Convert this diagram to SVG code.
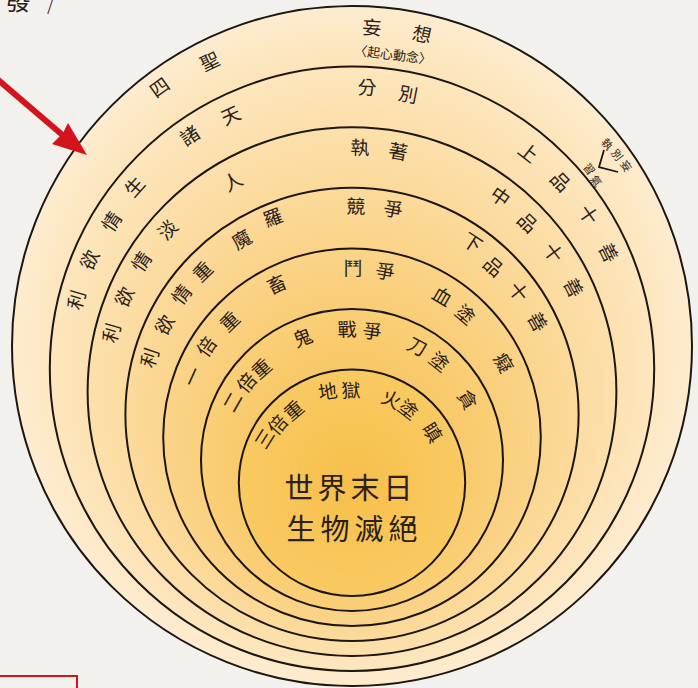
<svg xmlns="http://www.w3.org/2000/svg" width="698" height="688" viewBox="0 0 698 688">
<style>
.c{stroke:#1c1712;stroke-width:2}
.t{font-family:"Liberation Serif","Noto Sans CJK TC","Noto Sans CJK SC",serif;font-size:19px;fill:#2b2118;text-anchor:middle;dominant-baseline:central;font-weight:400}
.s{font-size:11px}
.m{font-size:13px}
.b{font-size:29px;font-weight:400}
</style>
<defs>
<radialGradient id="g0" cx="0.5" cy="0.5" r="0.5"><stop offset="0.8" stop-color="#fce3b4"/><stop offset="1" stop-color="#feecd0"/></radialGradient>
<radialGradient id="g1" cx="0.5" cy="0.5" r="0.5"><stop offset="0.75" stop-color="#fcdda5"/><stop offset="1" stop-color="#fde6be"/></radialGradient>
<radialGradient id="g2" cx="0.5" cy="0.5" r="0.5"><stop offset="0.7" stop-color="#fbd794"/><stop offset="1" stop-color="#fce0ac"/></radialGradient>
<radialGradient id="g3" cx="0.5" cy="0.5" r="0.5"><stop offset="0.65" stop-color="#fad182"/><stop offset="1" stop-color="#fcda9b"/></radialGradient>
<radialGradient id="g4" cx="0.5" cy="0.5" r="0.5"><stop offset="0.6" stop-color="#f9cb71"/><stop offset="1" stop-color="#fbd489"/></radialGradient>
<radialGradient id="g5" cx="0.5" cy="0.5" r="0.5"><stop offset="0.5" stop-color="#f8c662"/><stop offset="1" stop-color="#facf77"/></radialGradient>
<radialGradient id="g6" cx="0.5" cy="0.5" r="0.5"><stop offset="0" stop-color="#f7bf4a"/><stop offset="1" stop-color="#f9ca62"/></radialGradient>
</defs>
<rect width="698" height="688" fill="#f3f1ee"/>
<g id="header">
<text class="t" x="18" y="10" style="font-size:27px;dominant-baseline:alphabetic">發</text>
<text class="t" x="50" y="14" style="font-size:20px;dominant-baseline:alphabetic">/</text>
</g>
<g id="ring0">
<circle class="c" cx="352" cy="346" r="340" fill="url(#g0)"/>
<text class="t" x="372" y="28" transform="rotate(3.5 372 28)">妄</text>
<text class="t" x="422" y="35" transform="rotate(12.1 422 35)">想</text>
<text class="t m" x="393" y="55" transform="rotate(7 393 55)">〈起心動念〉</text>
<text class="t" x="160" y="88" transform="rotate(-35.5 160 88)">四</text>
<text class="t" x="210" y="62" transform="rotate(-25.7 210 62)">聖</text>
<text class="t s" x="607" y="144" transform="rotate(49.8 607 144)">執</text>
<text class="t s" x="617" y="155" transform="rotate(52.5 617 155)">別</text>
<text class="t s" x="626" y="166" transform="rotate(55 626 166)">妄</text>
<text class="t s" x="589" y="169" transform="rotate(51.6 589 169)">習</text>
<text class="t s" x="596" y="181" transform="rotate(54 596 181)">氣</text>
<polyline points="604,150 599,167 618,172" fill="none" stroke="#1c1712" stroke-width="1.8"/>
</g>
<g id="ring1">
<circle class="c" cx="352" cy="368.8" r="302.2" fill="url(#g1)"/>
<text class="t" x="367" y="88" transform="rotate(2.7 367 88)">分</text>
<text class="t" x="408" y="95" transform="rotate(11.1 408 95)">別</text>
<text class="t" x="190" y="136" transform="rotate(-33.6 190 136)">諸</text>
<text class="t" x="231" y="116" transform="rotate(-24.6 231 116)">天</text>
<text class="t" x="77" y="300" transform="rotate(-73.8 77 300)">利</text>
<text class="t" x="90" y="260" transform="rotate(-65.4 90 260)">欲</text>
<text class="t" x="112" y="222" transform="rotate(-56.6 112 222)">情</text>
<text class="t" x="135" y="187" transform="rotate(-48.3 135 187)">生</text>
<text class="t" x="528" y="153" transform="rotate(37.8 528 153)">上</text>
<text class="t" x="560" y="182" transform="rotate(46.4 560 182)">品</text>
<text class="t" x="588" y="215" transform="rotate(55 588 215)">十</text>
<text class="t" x="608" y="253" transform="rotate(63.6 608 253)">善</text>
</g>
<g id="ring2">
<circle class="c" cx="352" cy="391.6" r="264.4" fill="url(#g2)"/>
<text class="t" x="360" y="148" transform="rotate(1.8 360 148)">執</text>
<text class="t" x="398" y="152" transform="rotate(10.4 398 152)">著</text>
<text class="t" x="233" y="182" transform="rotate(-28.3 233 182)">人</text>
<text class="t" x="112" y="333" transform="rotate(-73.7 112 333)">利</text>
<text class="t" x="125" y="297" transform="rotate(-65 125 297)">欲</text>
<text class="t" x="142" y="262" transform="rotate(-56.1 142 262)">情</text>
<text class="t" x="168" y="230" transform="rotate(-46.8 168 230)">淡</text>
<text class="t" x="500" y="197" transform="rotate(35.7 500 197)">中</text>
<text class="t" x="527" y="223" transform="rotate(44.2 527 223)">品</text>
<text class="t" x="553" y="253" transform="rotate(53.3 553 253)">十</text>
<text class="t" x="573" y="288" transform="rotate(62.5 573 288)">善</text>
</g>
<g id="ring3">
<circle class="c" cx="352" cy="414.4" r="226.6" fill="url(#g3)"/>
<text class="t" x="356" y="207" transform="rotate(1 356 207)">競</text>
<text class="t" x="393" y="210" transform="rotate(10.7 393 210)">爭</text>
<text class="t" x="242" y="240" transform="rotate(-30.6 242 240)">魔</text>
<text class="t" x="273" y="218" transform="rotate(-20.8 273 218)">羅</text>
<text class="t" x="150" y="358" transform="rotate(-71.4 150 358)">利</text>
<text class="t" x="165" y="325" transform="rotate(-61.6 165 325)">欲</text>
<text class="t" x="182" y="295" transform="rotate(-52.4 182 295)">情</text>
<text class="t" x="203" y="272" transform="rotate(-44 203 272)">重</text>
<text class="t" x="472" y="243" transform="rotate(33.3 472 243)">下</text>
<text class="t" x="493" y="267" transform="rotate(41.6 493 267)">品</text>
<text class="t" x="518" y="292" transform="rotate(51.1 518 292)">十</text>
<text class="t" x="537" y="322" transform="rotate(60.7 537 322)">善</text>
</g>
<g id="ring4">
<circle class="c" cx="352" cy="437.2" r="188.8" fill="url(#g4)"/>
<text class="t" x="353" y="269" transform="rotate(0.3 353 269)">鬥</text>
<text class="t" x="385" y="272" transform="rotate(10.6 385 272)">爭</text>
<text class="t" x="277" y="285" transform="rotate(-24.6 277 285)">畜</text>
<text class="t" x="230" y="322" transform="rotate(-43.8 230 322)">重</text>
<text class="t" x="207" y="347" transform="rotate(-54.9 207 347)">倍</text>
<text class="t" x="193" y="377" transform="rotate(-65.6 193 377)">一</text>
<text class="t" x="442" y="297" transform="rotate(30.6 442 297)">血</text>
<text class="t" x="465" y="315" transform="rotate(40.1 465 315)">塗</text>
<text class="t" x="503" y="363" transform="rotate(60.3 503 363)">癡</text>
</g>
<g id="ring5">
<circle class="c" cx="352" cy="460" r="151" fill="url(#g5)"/>
<text class="t" x="347" y="330" transform="rotate(-2 347 330)">戰</text>
<text class="t" x="372" y="332" transform="rotate(8.2 372 332)">爭</text>
<text class="t" x="303" y="338" transform="rotate(-20.2 303 338)">鬼</text>
<text class="t" x="262" y="369" transform="rotate(-41.1 262 369)">重</text>
<text class="t" x="247" y="383" transform="rotate(-50.6 247 383)">倍</text>
<text class="t" x="233" y="402" transform="rotate(-60.5 233 402)">二</text>
<text class="t" x="417" y="347" transform="rotate(27.7 417 347)">刀</text>
<text class="t" x="439" y="362" transform="rotate(38.6 439 362)">塗</text>
<text class="t" x="467" y="400" transform="rotate(58.3 467 400)">貪</text>
</g>
<g id="ring6">
<circle class="c" cx="352" cy="482.8" r="113.2" fill="url(#g6)"/>
<text class="t" x="328" y="392" transform="rotate(-9 328 392)">地</text>
<text class="t" x="351" y="391" transform="rotate(-2 351 391)">獄</text>
<text class="t" x="294" y="411" transform="rotate(-40 294 411)">重</text>
<text class="t" x="278" y="425" transform="rotate(-49 278 425)">倍</text>
<text class="t" x="265" y="439" transform="rotate(-58 265 439)">三</text>
<text class="t" x="391" y="400" transform="rotate(25 391 400)">火</text>
<text class="t" x="408" y="410" transform="rotate(37.5 408 410)">塗</text>
<text class="t" x="432" y="433" transform="rotate(58 432 433)">瞋</text>
<text class="t b" x="299" y="489">世</text>
<text class="t b" x="332" y="489">界</text>
<text class="t b" x="365" y="489">末</text>
<text class="t b" x="398" y="489">日</text>
<text class="t b" x="301" y="530">生</text>
<text class="t b" x="335" y="530">物</text>
<text class="t b" x="369" y="530">滅</text>
<text class="t b" x="403" y="530">絕</text>
</g>
<g id="connectors">
<line x1="-4" y1="78" x2="66" y2="138" stroke="#d3141d" stroke-width="6"/>
<polygon points="87,155 52,144 63,133 68,123" fill="#d3141d"/>
<rect x="-3" y="676" width="80" height="20" fill="none" stroke="#d3141d" stroke-width="2"/>
</g>
</svg>
